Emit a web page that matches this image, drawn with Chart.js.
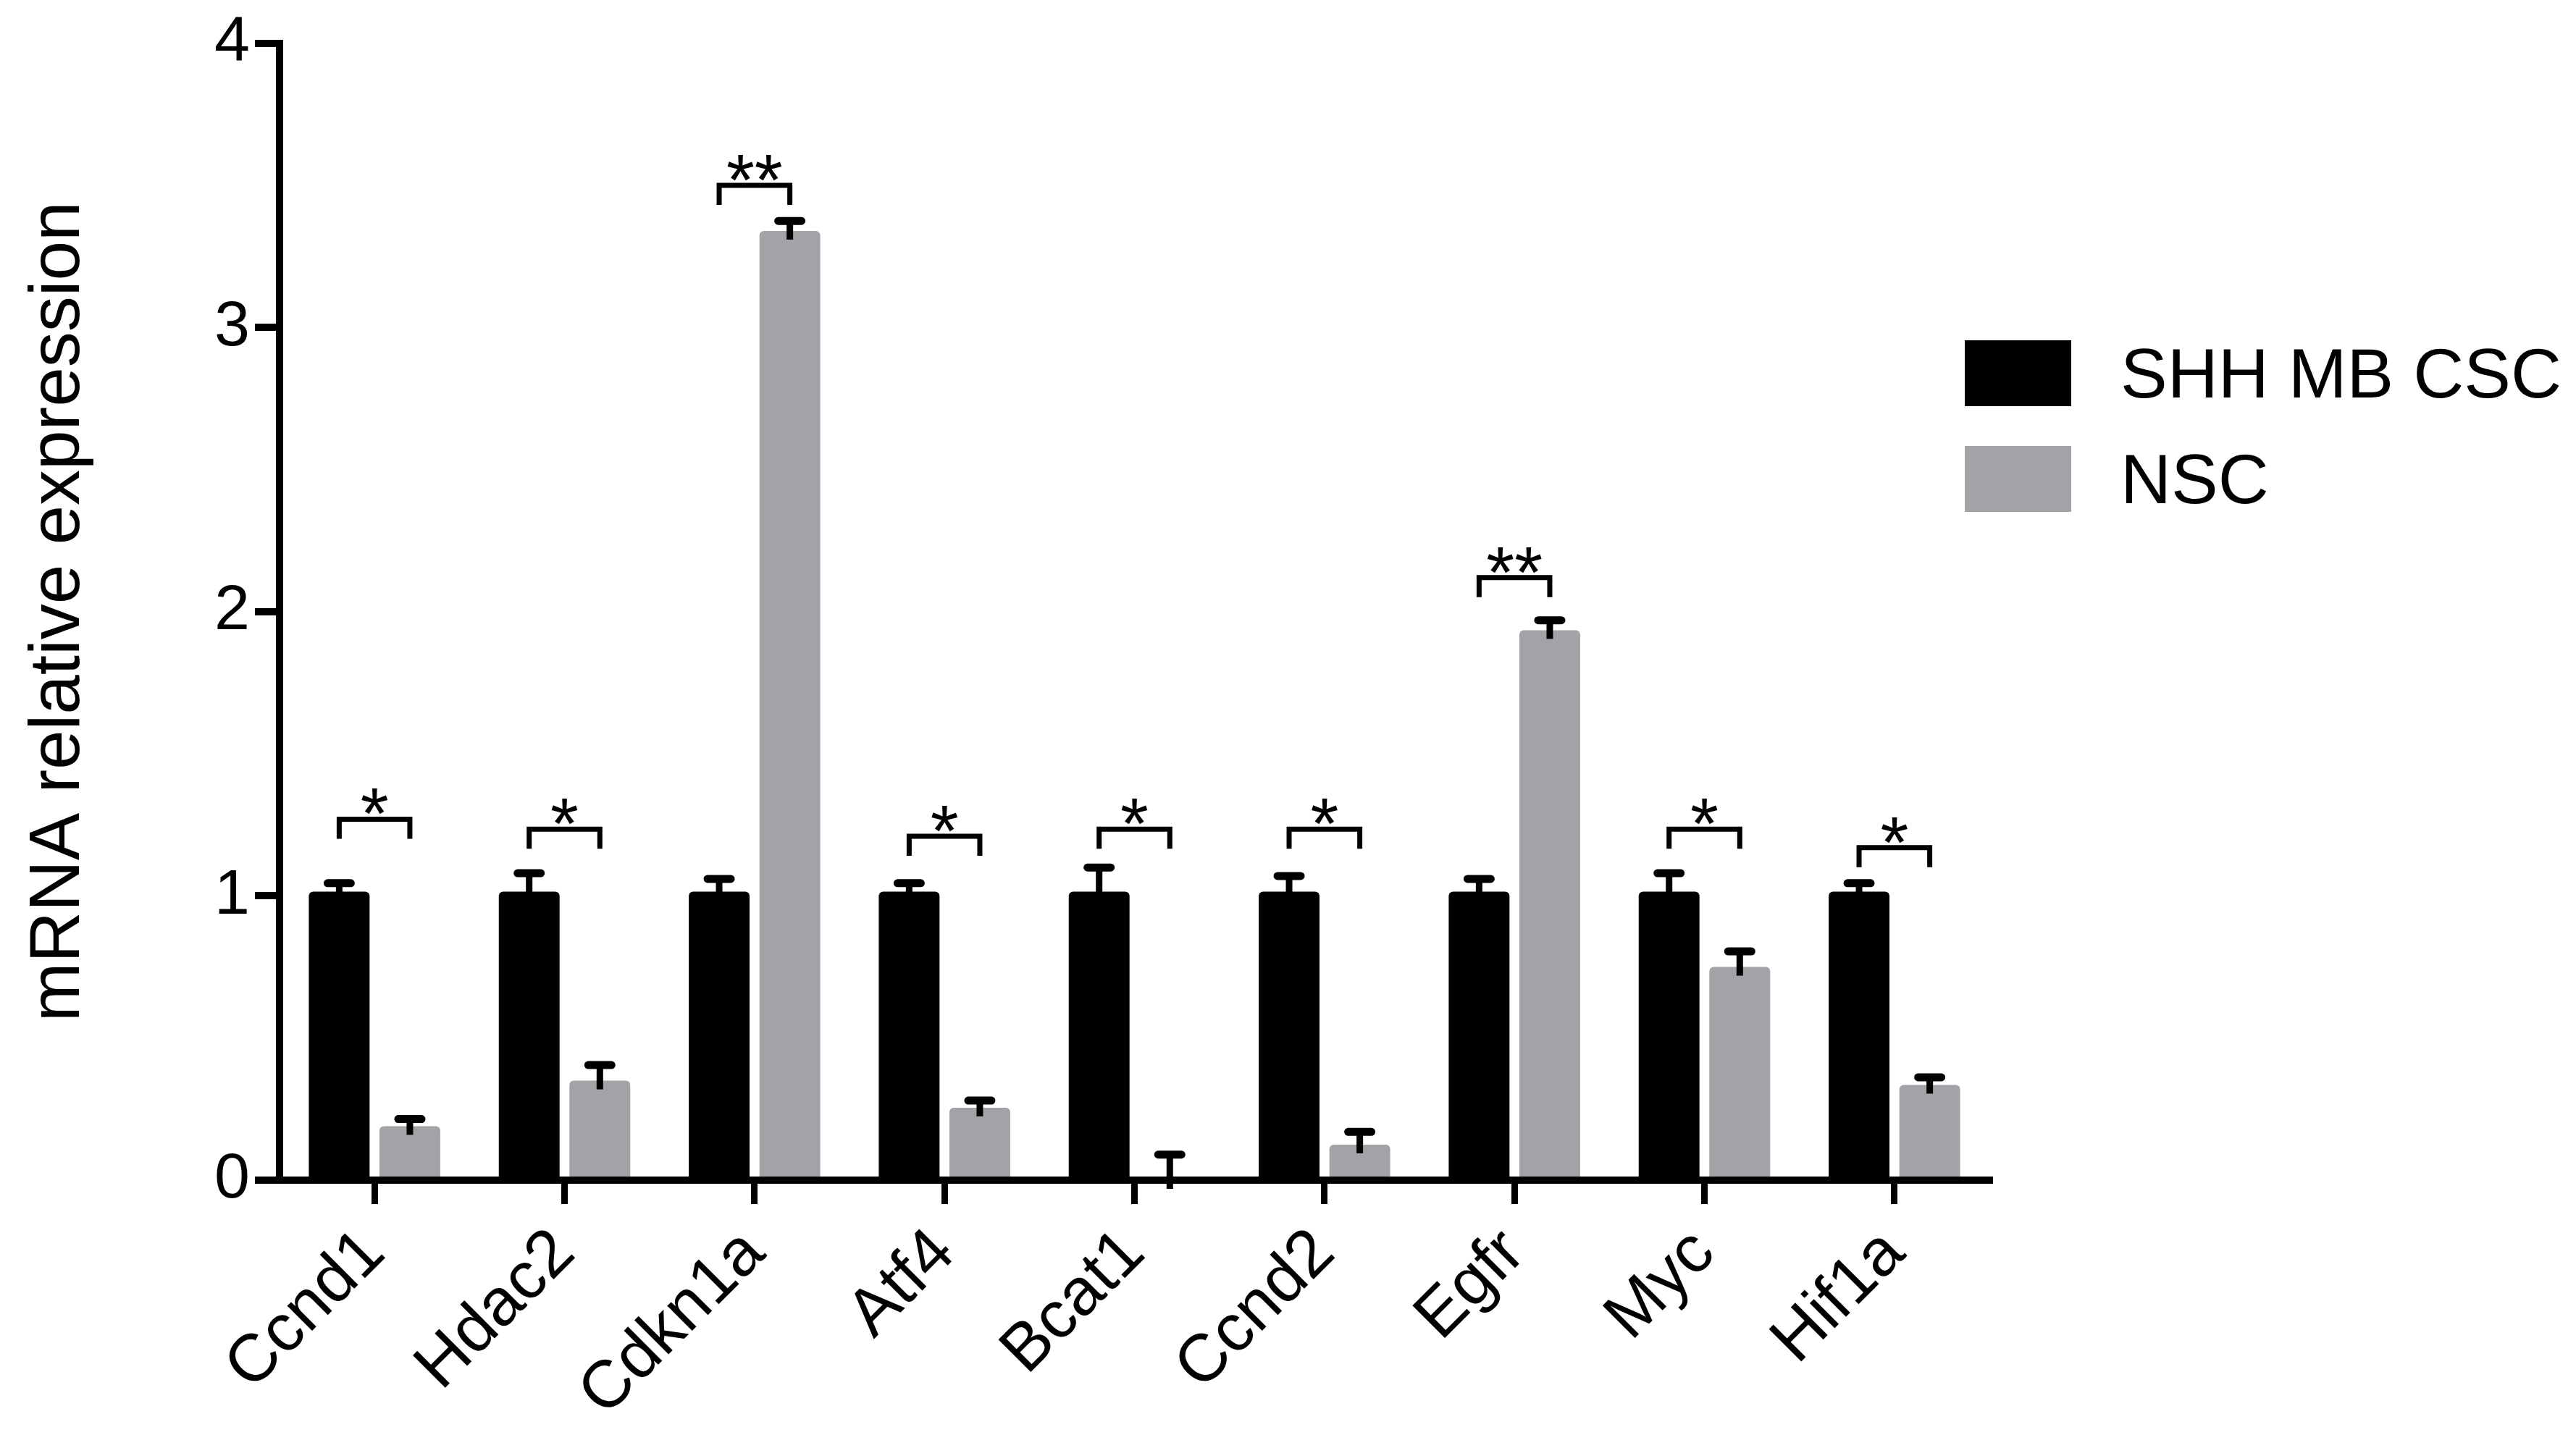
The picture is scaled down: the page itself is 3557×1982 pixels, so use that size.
<!DOCTYPE html>
<html>
<head>
<meta charset="utf-8">
<script src="https://cdn.jsdelivr.net/npm/chart.js@4.4.1/dist/chart.umd.min.js"></script>
<style>
  html, body { margin: 0; padding: 0; background: #fff; }
  #wrap { width: 3557px; height: 1982px; }
</style>
</head>
<body>
<div id="wrap"><canvas id="qpcrChart" width="3557" height="1982"></canvas></div>
<script>
// valores
const genes = ['Ccnd1', 'Hdac2', 'Cdkn1a', 'Atf4', 'Bcat1', 'Ccnd2', 'Egfr', 'Myc', 'Hif1a'];
const cscValues = [1.015, 1.015, 1.015, 1.015, 1.015, 1.015, 1.015, 1.015, 1.015];
const cscErrors = [0.03, 0.065, 0.045, 0.03, 0.085, 0.055, 0.045, 0.065, 0.03];
const nscValues = [0.19, 0.35, 3.34, 0.255, 0, 0.125, 1.935, 0.75, 0.335];
const nscErrors = [0.025, 0.055, 0.035, 0.025, 0.09, 0.045, 0.035, 0.055, 0.027];
const sigMarks = ['*', '*', '**', '*', '*', '*', '**', '*', '*'];
const bracketLevels = [1.27, 1.235, 3.50, 1.21, 1.235, 1.235, 2.12, 1.235, 1.17];
const seriesNames = ['SHH MB CSC', 'NSC'];

const blackColor = '#000000';
const grayColor = '#a2a3a7';
const FONT = "'Liberation Sans', Arial, Helvetica, sans-serif";

// barras de erro (só para cima) e colchetes de significância
const annotations = {
    id: 'annotations',
    afterDatasetsDraw(chart) {
        const ctx = chart.ctx;
        const y = chart.scales.y;
        const errs = [cscErrors, nscErrors];
        ctx.save();
        ctx.strokeStyle = '#000';
        chart.data.datasets.forEach((ds, di) => {
            chart.getDatasetMeta(di).data.forEach((bar, i) => {
                const v = ds.data[i];
                const yTop = y.getPixelForValue(v + errs[di][i]);
                // haste
                ctx.lineWidth = 9;
                ctx.lineCap = 'butt';
                ctx.beginPath();
                ctx.moveTo(bar.x, y.getPixelForValue(v) + 12);
                ctx.lineTo(bar.x, yTop);
                ctx.stroke();
                // topo
                ctx.lineWidth = 11;
                ctx.lineCap = 'round';
                ctx.beginPath();
                ctx.moveTo(bar.x - 16, yTop);
                ctx.lineTo(bar.x + 16, yTop);
                ctx.stroke();
            });
        });

        const m0 = chart.getDatasetMeta(0).data;
        const m1 = chart.getDatasetMeta(1).data;
        ctx.lineWidth = 7;
        ctx.lineCap = 'butt';
        ctx.lineJoin = 'miter';
        ctx.font = '100px ' + FONT;
        ctx.textAlign = 'center';
        ctx.textBaseline = 'alphabetic';
        ctx.fillStyle = '#000';
        genes.forEach((g, i) => {
            const yl = y.getPixelForValue(bracketLevels[i]);
            const x0 = m0[i].x, x1 = m1[i].x;
            ctx.beginPath();
            ctx.moveTo(x0, yl + 27);
            ctx.lineTo(x0, yl);
            ctx.lineTo(x1, yl);
            ctx.lineTo(x1, yl + 27);
            ctx.stroke();
            const tm = ctx.measureText(sigMarks[i]);
            const desc = tm.actualBoundingBoxDescent;
            ctx.fillText(sigMarks[i], (x0 + x1) / 2, yl - 6 - desc);
        });
        ctx.restore();
    }
};

// legenda desenhada à mão para ficar no mesmo lugar da figura
const sideLegend = {
    id: 'sideLegend',
    afterDraw(chart) {
        const ctx = chart.ctx;
        const colors = [blackColor, grayColor];
        ctx.save();
        ctx.font = '97px ' + FONT;
        ctx.textAlign = 'left';
        ctx.textBaseline = 'alphabetic';
        seriesNames.forEach((name, i) => {
            const top = 470 + i * 146;
            ctx.fillStyle = colors[i];
            ctx.fillRect(2713, top, 147, 91);
            ctx.fillStyle = '#000';
            ctx.fillText(name, 2928, top + 79);
        });
        ctx.restore();
    }
};

const ctx = document.getElementById('qpcrChart').getContext('2d');
new Chart(ctx, {
    type: 'bar',
    data: {
        labels: genes,
        datasets: [
            {
                label: seriesNames[0],
                data: cscValues,
                backgroundColor: blackColor,
                borderWidth: 0,
                borderRadius: 6,
                categoryPercentage: 0.744,
                barPercentage: 0.86
            },
            {
                label: seriesNames[1],
                data: nscValues,
                backgroundColor: grayColor,
                borderWidth: 0,
                borderRadius: 6,
                categoryPercentage: 0.744,
                barPercentage: 0.86
            }
        ]
    },
    options: {
        responsive: false,
        animation: false,
        devicePixelRatio: 1,
        layout: { padding: { left: 0, top: 55, right: 810, bottom: 0 } },
        plugins: {
            legend: { display: false },
            tooltip: { enabled: false }
        },
        scales: {
            x: {
                afterFit(scale) { scale.height = 352; },
                grid: {
                    offset: false,
                    drawOnChartArea: false,
                    drawTicks: true,
                    tickLength: 33,
                    lineWidth: 9,
                    color: '#000'
                },
                border: { display: true, color: '#000', width: 10, z: 1 },
                ticks: {
                    autoSkip: false,
                    maxRotation: 45,
                    minRotation: 45,
                    padding: 14,
                    color: '#000',
                    font: { family: FONT, size: 92 }
                }
            },
            y: {
                min: 0,
                max: 4,
                afterFit(scale) { scale.width = 386; },
                grid: {
                    drawOnChartArea: false,
                    drawTicks: true,
                    tickLength: 34,
                    lineWidth: 10,
                    color: '#000',
                    z: 1
                },
                border: { display: true, color: '#000', width: 10, z: 1 },
                ticks: {
                    stepSize: 1,
                    padding: 7,
                    color: '#000',
                    font: { family: FONT, size: 88 }
                },
                title: {
                    display: true,
                    text: 'mRNA relative expression',
                    color: '#000',
                    padding: { top: 23, bottom: 0 },
                    font: { family: FONT, size: 98 }
                }
            }
        }
    },
    plugins: [annotations, sideLegend]
});
</script>
</body>
</html>
